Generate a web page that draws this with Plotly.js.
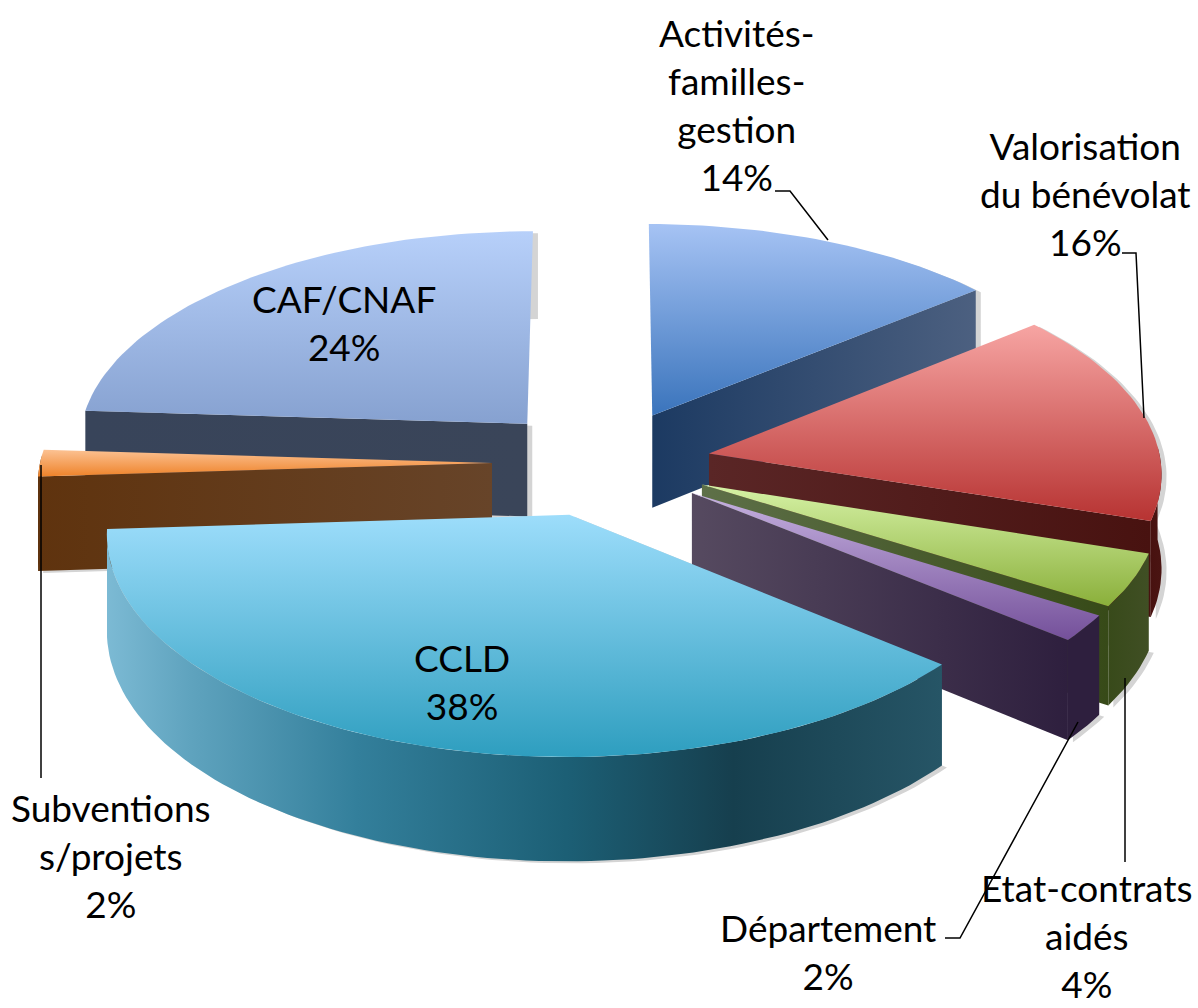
<!DOCTYPE html>
<html><head><meta charset="utf-8">
<script src="https://cdn.plot.ly/plotly-3.0.1.min.js"></script>
<style>html,body{margin:0;padding:0;background:#fff}#c{width:1198px;height:1008px}</style>
</head><body><div id="c"></div>
<script>
// Data
const categories = ['Activités-<br>familles-<br>gestion','Valorisation<br>du bénévolat','Etat-contrats<br>aidés','Département','CCLD','Subventions<br>s/projets','CAF/CNAF'];
const shares = [14,16,4,2,38,2,24];

// Styles
const topColors = [['#A6C3F4','#3A74BC'],['#F7A5A3','#B73332'],['#D6F2A6','#8AAF3A'],['#C6B2E0','#74509A'],['#9DDDFB','#2E9EBF'],['#FCC293','#EE832A'],['#B7D0FA','#86A1D0']];
const edgeColors = [['#1C3A62','#4C6080'],['#5A2626','#481210'],['#5E7048','#374A18'],['#564A60','#2E1F3E'],['#1F6880','#1F6880'],['#5F330E','#674429'],['#38445A','#3A4559']];
const outerColors = [
  [[0,'#1C3A62'],[1,'#4C6080']],
  [[0,'#481210'],[1,'#4A1412']],
  [[0,'#384A1A'],[1,'#404F24']],
  [[0,'#2E1F3E'],[1,'#2E1F3E']],
  [[0,'#7CBAD4'],[0.1,'#5FA3BE'],[0.3,'#337F9B'],[0.55,'#1C5F75'],[0.75,'#163F4E'],[1,'#265566']],
  [[0,'#5F330E'],[1,'#5F330E']],
  [[0,'#38445A'],[1,'#3A4559']]
];
const visibleEdge = ['end','end','end','end','none','start','start'];
const drawOrder = [6,0,5,1,2,3,4];
const shadowColor = '#d4d4d4';

// Projection settings
const cx=605, cy=463, ax=452, by=214, persp=0.08, thick=94;
const pulls=[0.25,0.235,0.235,0.235,0.25,0.25,0.255];
function project(X,Y,Z){const w=1+persp*Y; return [cx+ax*X/w, cy-by*Y/w+Z*thick/w];}
const rad=d=>d*Math.PI/180;

const total=shares.reduce((a,b)=>a+b,0);
let run=0;
const slices=shares.map((v,i)=>{const a0=run/total*360; run+=v; const a1=run/total*360; const mid=rad((a0+a1)/2);
  return {i,a0,a1,ox:pulls[i]*Math.sin(mid),oy:pulls[i]*Math.cos(mid)};});

function arcBetween(s,from,to,z){const pts=[];const n=Math.max(2,Math.ceil((to-from)/1.5));
  for(let k=0;k<=n;k++){const t=rad(from+(to-from)*k/n);pts.push(project(s.ox+Math.sin(t),s.oy+Math.cos(t),z));}return pts;}
function arc(s,z){return arcBetween(s,s.a0,s.a1,z);}
function apex(s,z){return project(s.ox,s.oy,z);}
function poly(pts,grad,type){const c=pts.concat([pts[0]]);return {type:'scatter',mode:'lines',x:c.map(p=>p[0]),y:c.map(p=>p[1]),
  line:{width:0,color:'rgba(0,0,0,0)'},fill:'toself',hoverinfo:'skip',showlegend:false,
  fillgradient:{type:type,colorscale:grad}};}
function two(a,b){return [[0,a],[1,b]];}

const traces=[];
// soft drop shadows, underneath everything
const shX=5, shY=2;
slices.forEach(s=>{
  const t=arc(s,0), b=arc(s,1), shape=[apex(s,0)].concat(t).concat(b.slice().reverse()).concat([apex(s,1)]);
  const c=shape.map(p=>[p[0]+shX,p[1]+shY]); c.push(c[0]);
  traces.push({type:'scatter',mode:'lines',x:c.map(p=>p[0]),y:c.map(p=>p[1]),line:{width:0,color:'rgba(0,0,0,0)'},fill:'toself',fillcolor:shadowColor,hoverinfo:'skip',showlegend:false});
});
drawOrder.forEach(i=>{
  const s=slices[i], t=arc(s,0), b=arc(s,1);
  const from=Math.max(s.a0,88), to=Math.min(s.a1,272);
  if(to>from){
    const wt=arcBetween(s,from,to,0), wb=arcBetween(s,from,to,1);
    traces.push(poly(wt.concat(wb.slice().reverse()),outerColors[i],'horizontal'));
  }
  if(visibleEdge[i]!=='none'){
    const outT=visibleEdge[i]==='end'?t[t.length-1]:t[0];
    const outB=visibleEdge[i]==='end'?b[b.length-1]:b[0];
    traces.push(poly([apex(s,0),outT,outB,apex(s,1)],two(edgeColors[i][0],edgeColors[i][1]),'horizontal'));
  }
  // y axis is reversed, so the vertical gradient runs bottom colour first
  traces.push(poly([apex(s,0)].concat(t),two(topColors[i][1],topColors[i][0]),'vertical'));
});

// Label layout
const labelAt=[[736,104],[1085,193],[1087,935],[828,951],[462,681],[111,855],[344,322]];
const leaders=[
  [[775,191],[790,191],[828,240]],
  [[1122,253],[1136,253],[1144,418]],
  [[1125,678],[1125,862]],
  [[945,938],[960,938],[1078,722]],
  [[41,465],[41,778]]
];
const shapes=leaders.map(l=>({type:'path',xref:'x',yref:'y',path:'M'+l.map(p=>p.join(',')).join('L'),line:{color:'#000',width:1.5}}));
const annotations=categories.map((n,i)=>({x:labelAt[i][0],y:labelAt[i][1],xref:'x',yref:'y',xanchor:'center',yanchor:'middle',align:'center',showarrow:false,
  text:n+'<br>'+shares[i]+'%',font:{family:'Lato, Carlito, sans-serif',size:37,color:'#000'}}));

Plotly.newPlot('c',traces,{
  width:1198,height:1008,margin:{l:0,r:0,t:0,b:0},paper_bgcolor:'#fff',plot_bgcolor:'#fff',showlegend:false,
  xaxis:{range:[0,1198],visible:false,fixedrange:true},
  yaxis:{range:[1008,0],visible:false,fixedrange:true},
  shapes,annotations,hovermode:false
},{displayModeBar:false,staticPlot:true});
</script></body></html>
